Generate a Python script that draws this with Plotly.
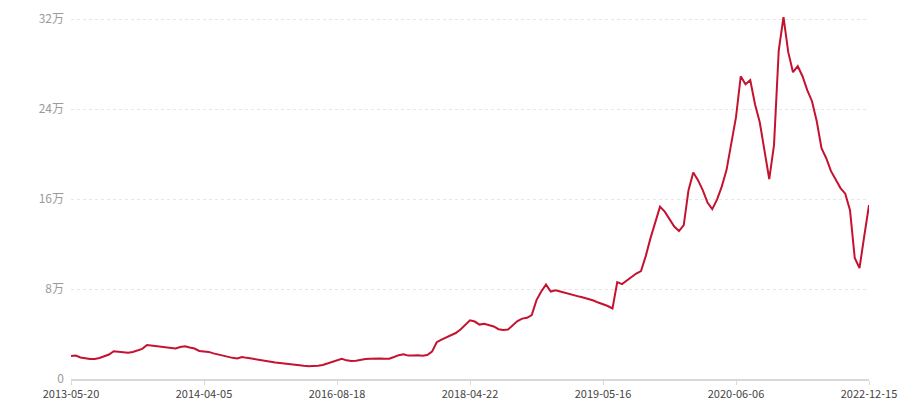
import plotly.graph_objects as go

# Tick labels (category axis, evenly spaced)
tick_labels = ["2013-05-20", "2014-04-05", "2016-08-18", "2018-04-22",
               "2019-05-16", "2020-06-06", "2022-12-15"]

# Series values in 万 (10k) at evenly spaced points
values_wan = [
    2.04, 2.09, 1.91, 1.84, 1.78, 1.79, 1.87, 2.02, 2.18, 2.47,
    2.42, 2.38, 2.34, 2.40, 2.51, 2.68, 3.02, 2.97, 2.95, 2.89,
    2.80, 2.75, 2.71, 2.84, 2.92, 2.80, 2.71, 2.49, 2.44, 2.41,
    2.28, 2.17, 2.05, 1.97, 1.88, 1.83, 1.96, 1.88, 1.81, 1.72,
    1.62, 1.56, 1.51, 1.47, 1.42, 1.36, 1.31, 1.26, 1.22, 1.17,
    1.14, 1.14, 1.18, 1.24, 1.38, 1.51, 1.66, 1.80, 1.66, 1.60,
    1.63, 1.71, 1.77, 1.80, 1.83, 1.83, 1.81, 1.81, 1.96, 2.12,
    2.19, 2.08, 2.09, 2.12, 2.07, 2.13, 2.43, 3.27, 3.51, 3.68,
    3.88, 4.09, 4.40, 4.80, 5.22, 5.11, 4.84, 4.92, 4.81, 4.67,
    4.43, 4.35, 4.40, 4.82, 5.15, 5.37, 5.44, 5.69, 7.02, 7.78,
    8.40, 7.78, 7.90, 7.79, 7.66, 7.56, 7.45, 7.33, 7.23, 7.11,
    6.98, 6.80, 6.67, 6.49, 6.27, 8.62, 8.44, 8.76, 9.02, 9.38,
    9.60, 10.93, 12.53, 14.00, 15.33, 14.89, 14.18, 13.56, 13.16, 13.69,
    16.80, 18.36, 17.69, 16.80, 15.69, 15.11, 15.96, 17.11, 18.58, 20.80,
    23.29, 26.93, 26.22, 26.58, 24.44, 22.84, 20.36, 17.78, 20.80, 29.24,
    32.20, 29.07, 27.29, 27.82, 26.93, 25.69, 24.71, 22.93, 20.53, 19.64,
    18.49, 17.69, 16.98, 16.49, 15.02, 10.76, 9.87, 12.71, 15.47,
]

y_tick_values = [0, 80000, 160000, 240000, 320000]
y_tick_text = ["0", "8万", "16万", "24万", "32万"]

values = [v * 10000 for v in values_wan]
x_idx = list(range(len(values)))
n = len(values) - 1
tick_positions = [round(k * n / (len(tick_labels) - 1)) for k in range(len(tick_labels))]

fig = go.Figure()
fig.add_trace(go.Scatter(
    x=x_idx, y=values, mode="lines",
    line=dict(color="#c4122f", width=2),
    hoverinfo="y",
))

fig.update_layout(
    width=900, height=400,
    margin=dict(l=71, r=31, t=17, b=21),
    paper_bgcolor="white", plot_bgcolor="white",
    showlegend=False,
    font=dict(family="Noto Sans CJK SC, Noto Sans, sans-serif", size=12),
    xaxis=dict(
        range=[0, n],
        tickvals=tick_positions, ticktext=tick_labels,
        showgrid=False, zeroline=False,
        showline=True, linecolor="#d9d9d9", linewidth=2,
        ticks="outside", ticklen=4, tickcolor="#d9d9d9", tickwidth=1,
        tickfont=dict(color="#444444", size=11),
        ticklabeloverflow="allow", automargin=False,
    ),
    yaxis=dict(
        range=[0, 322000],
        tickvals=y_tick_values, ticktext=y_tick_text,
        showgrid=True, gridcolor="#e6e6e6", griddash="dot", gridwidth=1,
        zeroline=False, showline=False, ticks="",
        ticklabelstandoff=6, automargin=False,
        tickfont=dict(color="#9a9a9a", size=12),
    ),
)

# remove the default page margin so the figure sits at the window's corner
fig.write_html(
    "out.html",
    config={"displayModeBar": False},
    post_script="document.body.style.margin='0';document.body.style.overflow='hidden';",
)
